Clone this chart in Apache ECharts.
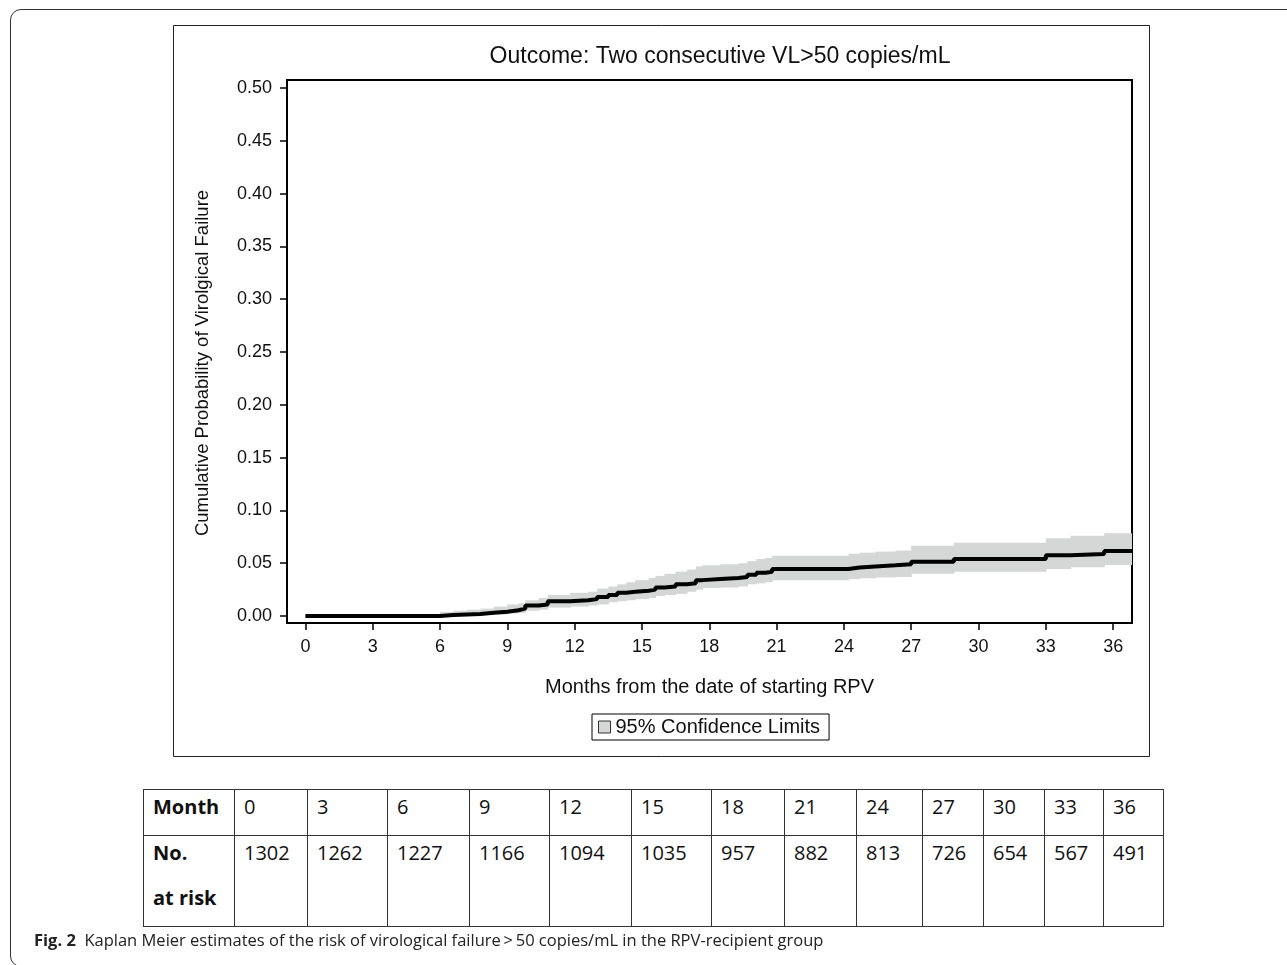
<!DOCTYPE html>
<html lang="en">
  <head>
    <meta charset="UTF-8" />
    <title>Kaplan Meier - virological failure</title>
    <style>
      html,
      body {
        width: 100%;
        height: 100%;
        margin: 0;
        overflow: hidden;
        background: #fff;
      }
      #frame {
        position: absolute;
        left: 10px;
        top: 9px;
        width: 1300px;
        height: 956px;
        border: 1px solid #333;
        border-radius: 11px 0 0 11px;
      }
      #main {
        position: absolute;
        left: 0;
        top: 0;
        width: 1287px;
        height: 965px;
      }
      #risk {
        position: absolute;
        left: 143px;
        top: 789px;
        border-collapse: collapse;
        table-layout: fixed;
        font-family: "Open Sans", sans-serif;
        font-size: 20px;
        color: #111;
        background: #fff;
      }
      #risk td {
        border: 1px solid #333;
        vertical-align: top;
        padding: 0 0 0 9px;
        line-height: 45px;
        box-sizing: border-box;
        white-space: nowrap;
        overflow: hidden;
      }
      #risk td div {
        position: relative;
        top: -6px;
      }
      #risk tr.r1 td {
        height: 46px;
      }
      #risk tr.r2 td {
        height: 91px;
      }
      #risk td.head {
        font-weight: bold;
      }
      #caption {
        position: absolute;
        left: 34px;
        top: 928px;
        font-family: "Open Sans", sans-serif;
        font-size: 16.5px;
        color: #222;
        white-space: nowrap;
      }
    </style>
  </head>
  <body>
    <div id="frame"></div>
    <div id="main"></div>
    <table id="risk"></table>
    <div id="caption">
      <b>Fig. 2</b>&nbsp; Kaplan Meier estimates of the risk of virological
      failure&#8201;&gt;&#8201;50 copies/mL in the RPV-recipient group
    </div>
    <script src="https://cdn.jsdelivr.net/npm/echarts@6/dist/echarts.min.js"></script>
    <script>
      // Kaplan-Meier step points (months, probability)
      const months = [
        0, 6.0, 6.6, 7.2, 7.8, 8.4, 9.0, 9.5, 9.8, 10.4, 10.8, 11.8, 12.6, 13.0,
        13.5, 13.9, 14.3, 14.7, 15.3, 15.6, 16.0, 16.5, 17.0, 17.4, 17.7, 18.5,
        19.3, 19.7, 20.1, 20.5, 20.8, 24.2, 24.7, 25.4, 26.3, 27.0, 28.9, 33.0,
        34.1, 35.6, 36.84,
      ];
      const km = [
        0, 0.001, 0.0015, 0.002, 0.003, 0.004, 0.0055, 0.007, 0.01, 0.011, 0.014,
        0.015, 0.016, 0.018, 0.02, 0.022, 0.023, 0.024, 0.025, 0.027, 0.028, 0.03,
        0.031, 0.034, 0.035, 0.036, 0.037, 0.039, 0.041, 0.042, 0.0445, 0.046,
        0.047, 0.048, 0.049, 0.0514, 0.054, 0.0575, 0.0587, 0.0616, 0.0616,
      ];
      const lower = [
        0, 0, 0.0002, 0.0005, 0.001, 0.0015, 0.0025, 0.003, 0.005, 0.006, 0.008,
        0.009, 0.01, 0.011, 0.013, 0.014, 0.015, 0.016, 0.017, 0.019, 0.02,
        0.021, 0.023, 0.025, 0.0265, 0.027, 0.028, 0.03, 0.031, 0.032, 0.034,
        0.035, 0.0357, 0.0365, 0.037, 0.04, 0.042, 0.0445, 0.0461, 0.0483,
        0.0483,
      ];
      const upper = [
        0, 0.004, 0.005, 0.006, 0.007, 0.009, 0.011, 0.012, 0.015, 0.017, 0.02,
        0.022, 0.023, 0.026, 0.028, 0.03, 0.032, 0.034, 0.036, 0.038, 0.04,
        0.042, 0.044, 0.047, 0.048, 0.049, 0.05, 0.052, 0.054, 0.055, 0.057,
        0.059, 0.06, 0.061, 0.062, 0.0666, 0.0694, 0.0736, 0.076, 0.0783,
        0.0783,
      ];
      const xTicks = [0, 3, 6, 9, 12, 15, 18, 21, 24, 27, 30, 33, 36];
      const yTicks = [0, 0.05, 0.1, 0.15, 0.2, 0.25, 0.3, 0.35, 0.4, 0.45, 0.5];

      // number at risk table
      const riskMonths = [0, 3, 6, 9, 12, 15, 18, 21, 24, 27, 30, 33, 36];
      const atRisk = [1302, 1262, 1227, 1166, 1094, 1035, 957, 882, 813, 726, 654, 567, 491];

      // 表格列宽
      const colWidths = [91, 73, 80, 82, 80, 82, 80, 73, 72, 66, 61, 61, 59, 60];
      const table = document.getElementById("risk");
      let html = "<colgroup>";
      colWidths.forEach((w) => (html += '<col style="width:' + w + 'px">'));
      html += "</colgroup>";
      html += '<tr class="r1"><td class="head"><div>Month</div></td>';
      riskMonths.forEach((m) => (html += "<td><div>" + m + "</div></td>"));
      html += '</tr><tr class="r2"><td class="head"><div>No.<br>at risk</div></td>';
      atRisk.forEach((n) => (html += "<td><div>" + n + "</div></td>"));
      html += "</tr>";
      table.innerHTML = html;
      table.style.width = colWidths.reduce((a, b) => a + b, 0) + "px";

      // 置信带：每段 [start, end, lower, upper]
      const bandData = months
        .slice(0, -1)
        .map((m, i) => [m, months[i + 1], lower[i], upper[i]]);

      const sasFont = "Liberation Sans, Arial, sans-serif";
      const bandColor = "#d5d6d6";
      const option = {
        animation: false,
        grid: {
          left: 287,
          top: 80,
          right: 155,
          bottom: 342,
          show: true,
          borderColor: "#000",
          borderWidth: 2,
        },
        legend: {
          left: 592,
          top: 714,
          padding: [3, 9, 3, 6],
          borderColor: "#000",
          borderWidth: 1,
          itemWidth: 12,
          itemHeight: 12,
          textStyle: { fontFamily: sasFont, fontSize: 20, color: "#111" },
          data: [
            {
              name: "95% Confidence Limits",
              icon: "rect",
              itemStyle: { color: bandColor, borderColor: "#333", borderWidth: 1 },
            },
          ],
        },
        xAxis: {
          type: "value",
          min: -0.82,
          max: 36.84,
          name: "Months from the date of starting RPV",
          nameLocation: "middle",
          nameGap: 54,
          nameTextStyle: { fontFamily: sasFont, fontSize: 20, color: "#111" },
          axisLine: { show: true, onZero: false, lineStyle: { color: "#000", width: 2 } },
          axisTick: {
            show: true,
            length: 7,
            customValues: xTicks,
            lineStyle: { color: "#000", width: 1.5 },
          },
          axisLabel: {
            customValues: xTicks,
            margin: 15,
            fontFamily: sasFont,
            fontSize: 18,
            color: "#111",
          },
          splitLine: { show: false },
        },
        yAxis: {
          type: "value",
          min: -0.0066,
          max: 0.5076,
          axisLine: { show: true, onZero: false, lineStyle: { color: "#000", width: 2 } },
          axisTick: {
            show: true,
            length: 7,
            customValues: yTicks,
            lineStyle: { color: "#000", width: 1.5 },
          },
          axisLabel: {
            customValues: yTicks,
            margin: 15,
            fontFamily: sasFont,
            fontSize: 18,
            color: "#111",
            formatter: (v) => v.toFixed(2),
          },
          splitLine: { show: false },
        },
        graphic: [
          {
            type: "rect",
            silent: true,
            shape: { x: 173.5, y: 25.5, width: 976, height: 731 },
            style: { fill: "#fff", stroke: "#222", lineWidth: 1 },
            z: -10,
          },
          {
            type: "text",
            silent: true,
            x: 720,
            y: 57,
            style: {
              text: "Outcome: Two consecutive VL>50 copies/mL",
              font: "23px " + sasFont,
              fill: "#111",
              align: "center",
              verticalAlign: "middle",
            },
          },
          {
            // y 轴标题
            type: "text",
            silent: true,
            x: 203,
            y: 363,
            rotation: Math.PI / 2,
            style: {
              text: "Cumulative Probability of Virolgical Failure",
              font: "18.5px " + sasFont,
              fill: "#111",
              align: "center",
              verticalAlign: "middle",
            },
          },
        ],
        series: [
          {
            name: "95% Confidence Limits",
            type: "custom",
            silent: true,
            clip: true,
            itemStyle: { color: bandColor },
            encode: { x: [0, 1], y: [2, 3] },
            data: bandData,
            renderItem: (params, api) => {
              const p0 = api.coord([api.value(0), api.value(3)]);
              const p1 = api.coord([api.value(1), api.value(2)]);
              return {
                type: "rect",
                shape: {
                  x: p0[0],
                  y: p0[1],
                  width: p1[0] - p0[0] + 0.6,
                  height: p1[1] - p0[1],
                },
                style: { fill: bandColor },
              };
            },
          },
          {
            name: "KM",
            type: "line",
            step: "end",
            symbol: "none",
            silent: true,
            lineStyle: { color: "#000", width: 4 },
            data: months.map((m, i) => [m, km[i]]),
          },
        ],
      };
      const myChart = echarts.init(document.getElementById("main"));
      myChart.setOption(option);
    </script>
  </body>
</html>
